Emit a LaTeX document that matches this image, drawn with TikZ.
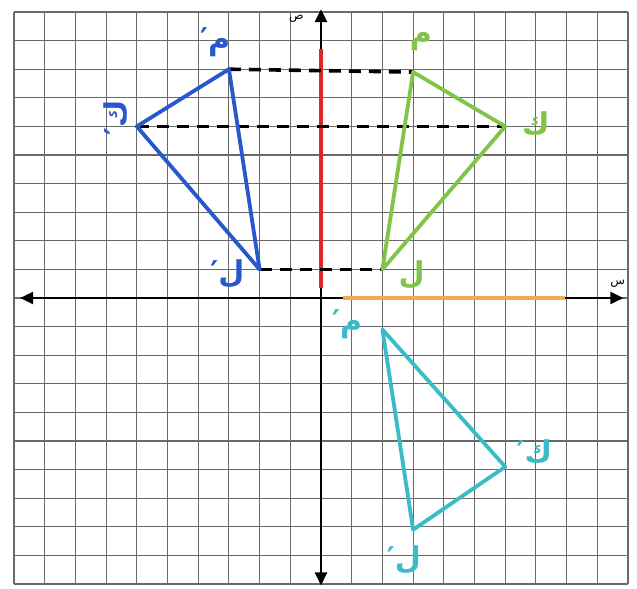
\documentclass[tikz,border=0pt]{standalone}
\usepackage{fontspec}
\newfontfamily\arabicfont[Script=Arabic]{DejaVu Sans}
\TeXXeTstate=1
\usetikzlibrary{arrows.meta}
\definecolor{cblue}{RGB}{40,88,205}
\definecolor{cgreen}{RGB}{128,196,72}
\definecolor{ccyan}{RGB}{58,188,200}
\definecolor{cred}{RGB}{222,40,40}
\definecolor{corange}{RGB}{240,172,84}
\definecolor{cgrid}{RGB}{105,105,105}
\tikzset{
  gridline/.style={cgrid, line width=1.1pt},
  axisline/.style={black, line width=2.4pt, -{Triangle[length=13pt,width=12pt]}},
  tri/.style={line width=3.8pt, line join=round},
  dashline/.style={black, line width=3.6pt, dash pattern=on 12pt off 8pt},
  lbl/.style={font=\arabicfont\bfseries\fontsize{30}{32}\selectfont, inner sep=0pt},
  axlbl/.style={font=\arabicfont\fontsize{12}{13}\selectfont, inner sep=0pt}
}
\begin{document}
\begin{tikzpicture}[x=30.7pt,y=28.6pt]
\useasboundingbox[fill=white] (-10.456,-10.14) rectangle (10.293,10.42);
% grid
\foreach \i in {-10,...,10} {
  \draw[gridline] (\i,-10) -- (\i,10);
  \draw[gridline] (-10,\i) -- (10,\i);
}
% axes
\coordinate (O) at (0,0);
\coordinate (xl) at (-9.8,0);
\coordinate (xr) at (9.85,0);
\coordinate (yt) at (0,10.1);
\coordinate (yb) at (0,-10.05);
\draw[axisline] (O) -- (xl);
\draw[axisline] (O) -- (xr);
\draw[axisline] (O) -- (yt);
\draw[axisline] (O) -- (yb);
% coloured segments on axes
\coordinate (r1) at (0,8.7);
\coordinate (r2) at (0,0.35);
\draw[cred, line width=3.6pt] (r1) -- (r2);
\coordinate (o1) at (0.72,0);
\coordinate (o2) at (7.95,0);
\draw[corange, line width=3.6pt] (o1) -- (o2);
\node[axlbl] (sad) at (-0.8,9.78) {\beginR ص\endR};
\node[axlbl] (sin) at (9.66,0.5) {\beginR س\endR};
% vertices
\coordinate (Mb) at (-3,8);
\coordinate (Kb) at (-6,6);
\coordinate (Lb) at (-2,1);
\coordinate (Mg) at (3,7.9);
\coordinate (Kg) at (6,6);
\coordinate (Lg) at (2,1);
\coordinate (Mc) at (2,-1.1);
\coordinate (Kc) at (6,-5.9);
\coordinate (Lc) at (3,-8.1);
% dashed connectors
\draw[dashline] (Mb) -- (Mg);
\draw[dashline] (Kb) -- (Kg);
\draw[dashline] (Lb) -- (Lg);
% triangles
\draw[tri, cblue] (Mb) -- (Kb) -- (Lb) -- cycle;
\draw[tri, cgreen] (Mg) -- (Kg) -- (Lg) -- cycle;
\draw[tri, ccyan] (Mc) -- (Kc) -- (Lc) -- cycle;
% labels
\node[lbl, cblue] (lMb) at (-3.45,8.95) {\beginR م′\endR};
\node[lbl, cblue, rotate=90] (lKb) at (-6.7,6.3) {\beginR ك′\endR};
\node[lbl, cblue] (lLb) at (-3.05,0.85) {\beginR ل′\endR};
\node[lbl, cgreen] (lMg) at (3.25,8.95) {\beginR م\endR};
\node[lbl, cgreen] (lKg) at (7.0,6.1) {\beginR ك\endR};
\node[lbl, cgreen] (lLg) at (2.95,0.8) {\beginR ل\endR};
\node[lbl, ccyan] (lMc) at (0.85,-0.9) {\beginR م′\endR};
\node[lbl, ccyan] (lKc) at (6.95,-5.35) {\beginR ك′\endR};
\node[lbl, ccyan] (lLc) at (2.7,-9.15) {\beginR ل′\endR};
\end{tikzpicture}
\end{document}
